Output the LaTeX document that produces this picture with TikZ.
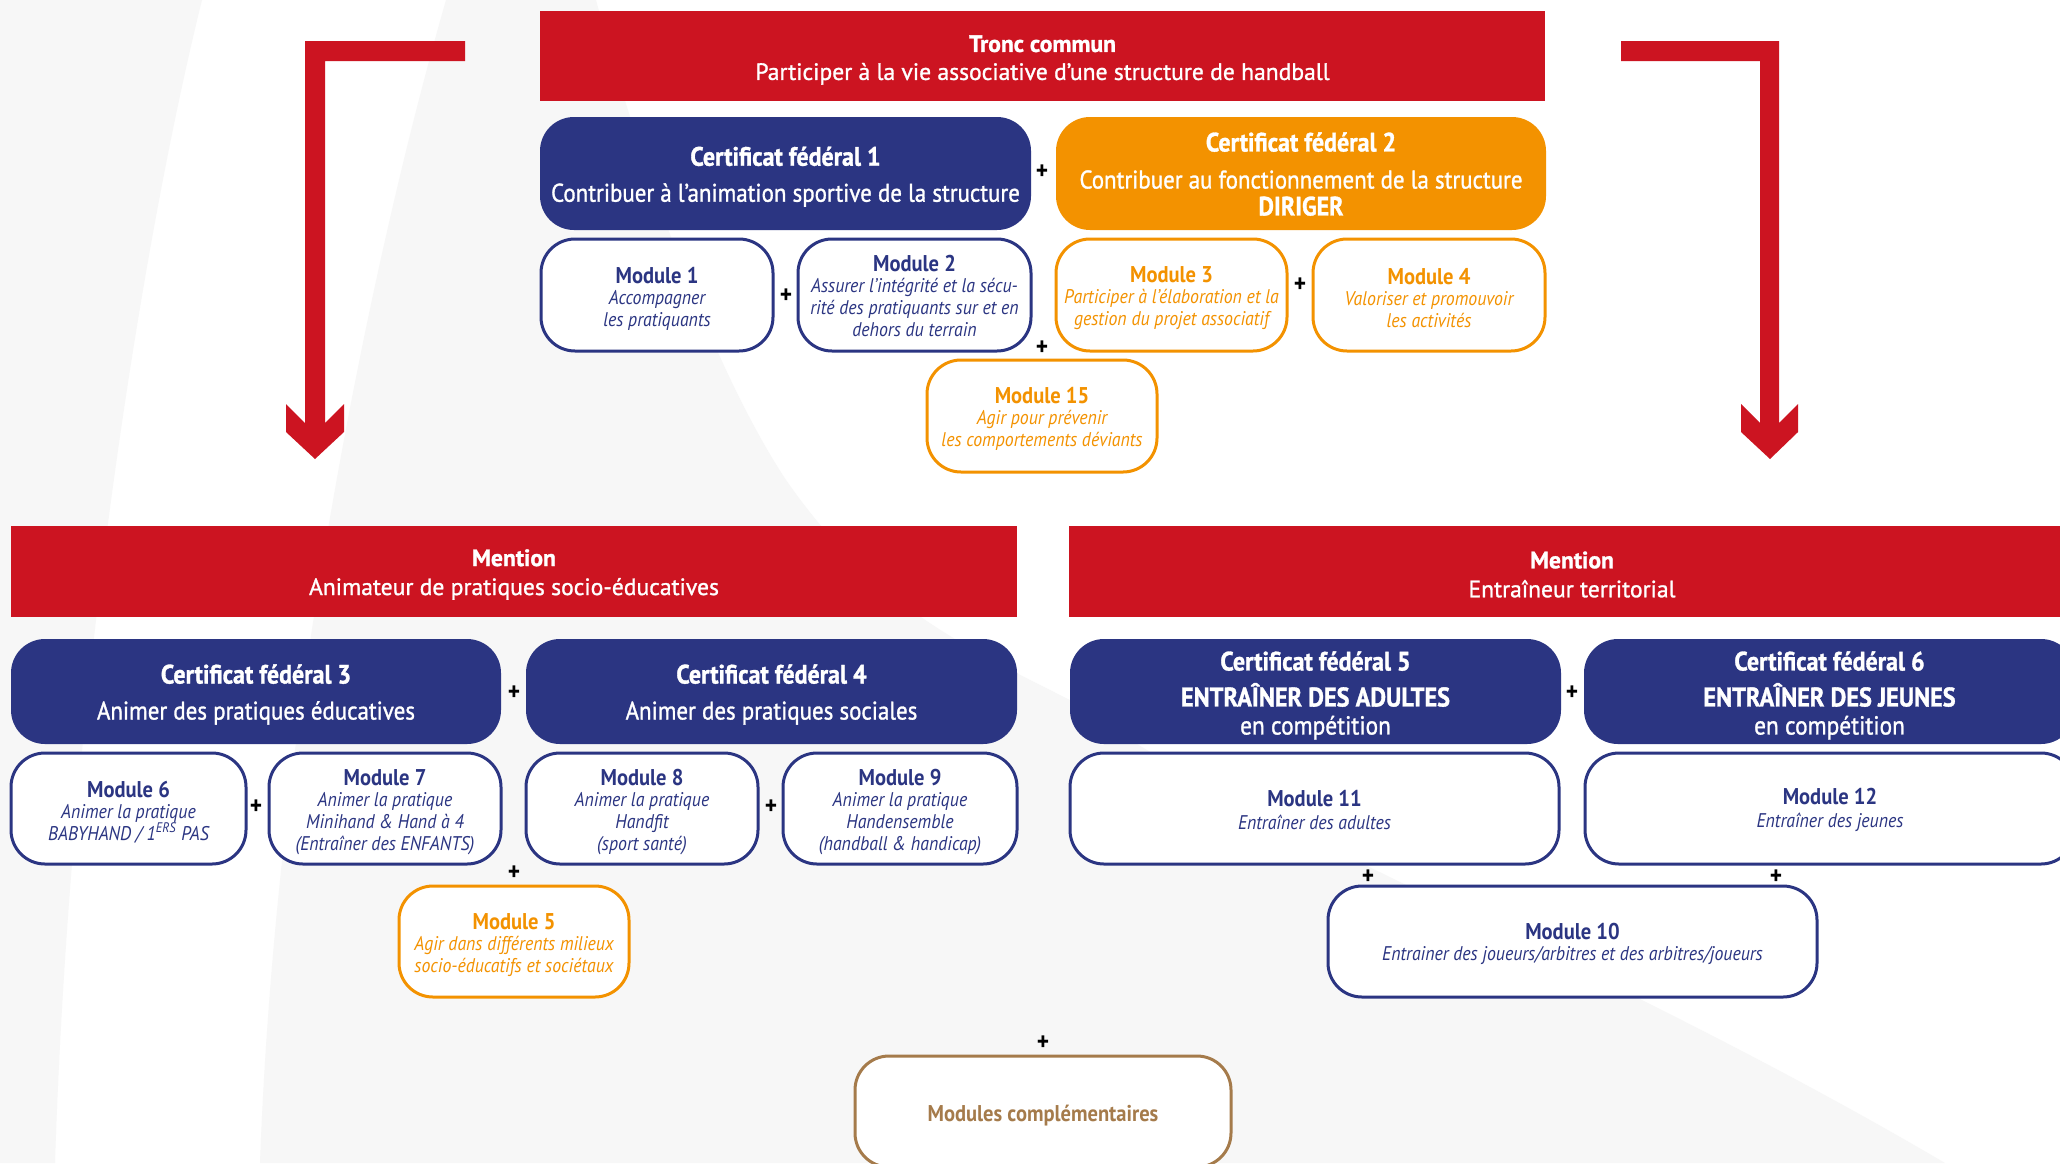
\documentclass[tikz,border=0pt]{standalone}
\usepackage{fontspec}
\setmainfont{PT Sans}[FakeStretch=0.9]
\newfontfamily\medfont{PT Sans}[FakeStretch=0.9, FakeBold=1.2]
\newfontfamily\widemed{PT Sans}[FakeBold=1.2]
\definecolor{ffred}{HTML}{CC1421}
\definecolor{ffblue}{HTML}{2B3582}
\definecolor{fforange}{HTML}{F39200}
\definecolor{ffbrown}{HTML}{A57B4B}
\definecolor{bggrey}{HTML}{F7F7F7}
\tikzset{
  banner/.style={fill=ffred, text=white, inner sep=0pt, align=center, font=\widemed\fontsize{11.8}{14}\selectfont},
  cfbase/.style={rounded corners=17pt, text=white, inner sep=0pt, align=center, font=\medfont\fontsize{12.75}{14}\selectfont},
  cfblue/.style={cfbase, fill=ffblue},
  cforange/.style={cfbase, fill=fforange},
  modbase/.style={line width=1.5pt, fill=white, rounded corners=17pt, inner sep=0pt, align=center, font=\fontsize{9.9}{11}\selectfont\itshape},
  modblue/.style={modbase, draw=ffblue, text=ffblue},
  modorange/.style={modbase, draw=fforange, text=fforange},
  modbrown/.style={modbase, draw=ffbrown, text=ffbrown},
  plus/.style={inner sep=0pt, font=\fontsize{13}{12}\selectfont\bfseries, text=black},
  textonly/.style={draw=none, fill=none, minimum width=0pt, minimum height=0pt}
}
% box drawn from its pixel corners, text placed at its centre (shifted by #1)
\newcommand\pbox[8][-1.75pt]{%
  \node[#2, minimum width={(#5-#3)*0.5pt}, minimum height={(#6-#4)*0.5pt}] (#7) at ({(#3+#5)/2},{(#4+#6)/2}) {};
  \node[#2, textonly] (#7-t) at ([yshift=#1]#7.center) {#8};}
\newcommand\mt[1]{{\fontsize{11.4}{12}\selectfont\upshape\bfseries #1}}
\newcommand\bt[1]{{\bfseries #1}}
\newcommand\cft[1]{{\fontsize{13.3}{14}\selectfont\bfseries #1}}
\newcommand\cfc[1]{{\fontsize{13.5}{14}\selectfont\bfseries #1}}
\newcommand\cfm[1]{{\fontsize{13}{14}\selectfont #1}}
\begin{document}
\begin{tikzpicture}[x=0.5pt,y=-0.5pt]
\useasboundingbox (0,0) rectangle (2060,1163);
\clip (0,0) rectangle (2060,1163);
\fill[white] (0,0) rectangle (2060,1163);
% background swooshes
\fill[bggrey] (0,0) -- (202,0) .. controls (140,250) and (70,700) .. (55,1163) -- (0,1163) -- cycle;
\fill[bggrey] (446,0) -- (596,0) .. controls (650,200) and (720,380) .. (786,480)
  .. controls (870,600) and (950,640) .. (1070,700)
  .. controls (1250,830) and (1600,960) .. (1945,1163)
  -- (260,1163) .. controls (275,750) and (360,300) .. (446,0) -- cycle;
% red arrows
\fill[ffred] (305,41) -- (465,41) -- (465,61) -- (325,61) -- (325,423) -- (344,404) -- (344,432)
  -- (315,459) -- (286,432) -- (286,404) -- (305,423) -- cycle;
\fill[ffred] (1779,41) -- (1621,41) -- (1621,61) -- (1760,61) -- (1760,423) -- (1741,404) -- (1741,432)
  -- (1770,459) -- (1798,432) -- (1798,404) -- (1779,423) -- cycle;
% tronc commun
\pbox[-2pt]{banner}{540}{11}{1545}{101}{tronc}{\bt{Tronc commun}\\Participer à la vie associative d’une structure de handball}
\pbox[-1.6pt]{cfblue}{540}{117}{1031}{230}{cf1}{\cft{Certificat fédéral 1}\\[4pt]Contribuer à l’animation sportive de la structure}
\pbox[-0.3pt]{cforange}{1056}{117}{1546}{230}{cf2}{\cft{Certificat fédéral 2}\\[4.5pt]Contribuer au fonctionnement de la structure\\[-0.5pt]\cft{DIRIGER}}
\node[plus] (p1) at (1042,172) {+};
\pbox{modblue}{541}{239}{773}{351}{m1}{\mt{Module 1}\\[-0.5pt]Accompagner\\les pratiquants}
\pbox[-0.5pt]{modblue}{798}{239}{1031}{351}{m2}{\mt{Module 2}\\[-0.5pt]Assurer l’intégrité et la sécu-\\rité des pratiquants sur et en\\dehors du terrain}
\pbox{modorange}{1056}{239}{1287}{351}{m3}{\mt{Module 3}\\[-0.5pt]Participer à l’élaboration et la\\gestion du projet associatif}
\pbox{modorange}{1313}{239}{1545}{351}{m4}{\mt{Module 4}\\[-0.5pt]Valoriser et promouvoir\\les activités}
\node[plus] (p2) at (786,296) {+};
\node[plus] (p3) at (1300,285) {+};
\node[plus] (p4) at (1042,348) {+};
\pbox[-1.2pt]{modorange}{927}{360}{1157}{472}{m15}{\mt{Module 15}\\[-0.5pt]Agir pour prévenir\\les comportements déviants}
% mentions
\pbox[-1.5pt]{banner}{11}{526}{1017}{617}{men1}{\bt{Mention}\\[0.5pt]Animateur de pratiques socio-éducatives}
\pbox[-1.5pt]{banner}{1069}{526}{2075}{617}{men2}{\bt{Mention}\\[0.5pt]Entraîneur territorial}
\pbox[-1.5pt]{cfblue}{11}{639}{501}{744}{cf3}{\cft{Certificat fédéral 3}\\[4pt]Animer des pratiques éducatives}
\pbox[-1.5pt]{cfblue}{526}{639}{1017}{744}{cf4}{\cft{Certificat fédéral 4}\\[4pt]Animer des pratiques sociales}
\pbox[-2pt]{cfblue}{1070}{639}{1561}{744}{cf5}{\cft{Certificat fédéral 5}\\[4pt]\cfc{ENTRAÎNER DES ADULTES}\\[0pt]\cfm{en compétition}}
\pbox[-2pt]{cfblue}{1584}{639}{2075}{744}{cf6}{\cft{Certificat fédéral 6}\\[4pt]\cfc{ENTRAÎNER DES JEUNES}\\[0pt]\cfm{en compétition}}
\node[plus] (p5) at (514,693) {+};
\node[plus] (p6) at (1572,693) {+};
\pbox{modblue}{11}{753}{246}{864}{m6}{\mt{Module 6}\\[-0.5pt]Animer la pratique\\BABYHAND / 1\textsuperscript{ERS} PAS}
\pbox{modblue}{269}{753}{501}{864}{m7}{\mt{Module 7}\\[-0.5pt]Animer la pratique\\Minihand \& Hand à 4\\(Entraîner des ENFANTS)}
\pbox{modblue}{526}{753}{758}{864}{m8}{\mt{Module 8}\\[-0.5pt]Animer la pratique\\Handfit\\(sport santé)}
\pbox{modblue}{783}{753}{1017}{864}{m9}{\mt{Module 9}\\[-0.5pt]Animer la pratique\\Handensemble\\(handball \& handicap)}
\node[plus] (p7) at (256,807) {+};
\node[plus] (p8) at (771,807) {+};
\node[plus] (p9) at (514,873) {+};
\pbox{modorange}{399}{886}{629}{997}{m5}{\mt{Module 5}\\[-0.5pt]Agir dans différents milieux\\socio-éducatifs et sociétaux}
\pbox[-0.6pt]{modblue}{1070}{753}{1559}{864}{m11}{\mt{Module 11}\\[0.5pt]Entraîner des adultes}
\pbox[-0.6pt]{modblue}{1585}{753}{2075}{864}{m12}{\mt{Module 12}\\[0.5pt]Entraîner des jeunes}
\node[plus] (p10) at (1368,877) {+};
\node[plus] (p11) at (1776,877) {+};
\pbox[-1pt]{modblue}{1328}{886}{1817}{997}{m10}{\mt{Module 10}\\[-0.5pt]Entrainer des joueurs/arbitres et des arbitres/joueurs}
\node[plus] (p12) at (1043,1043) {+};
\pbox[-2pt]{modbrown}{855}{1056}{1231}{1167}{mc}{\mt{Modules complémentaires}}
\end{tikzpicture}
\end{document}
